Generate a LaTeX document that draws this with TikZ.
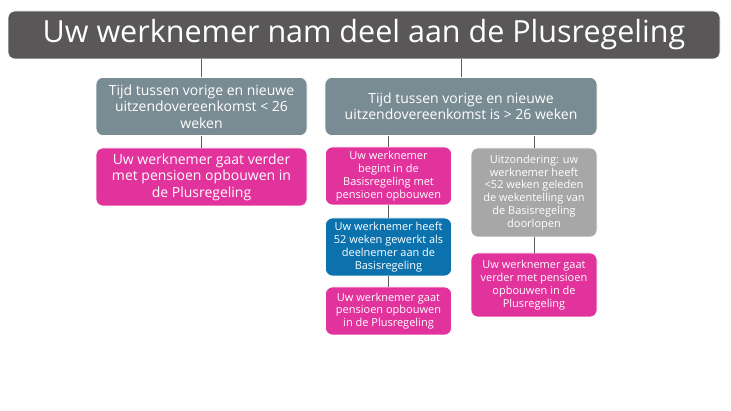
\documentclass[tikz,border=0pt]{standalone}
\usepackage{fontspec}
\setmainfont{Open Sans}
\usetikzlibrary{positioning}
\definecolor{titlegrey}{HTML}{595757}
\definecolor{slate}{HTML}{7A8C93}
\definecolor{roze}{HTML}{E2329B}
\definecolor{blauw}{HTML}{0B72AE}
\definecolor{lichtgrijs}{HTML}{A7A7A7}
\definecolor{lijn}{HTML}{5A5A5A}

\begin{document}
\begin{tikzpicture}[x=1pt,y=1pt,on grid,
  box/.style={rounded corners=7pt,draw=white,line width=0.6pt,text=white,align=center,inner sep=0pt},
  bigbox/.style={box,minimum height=58pt,font=\fontsize{14}{16.5}\selectfont},
  smallbox/.style={box,minimum width=126pt,font=\fontsize{11}{12.8}\selectfont},
  line/.style={draw=lijn,line width=1pt}]
  \useasboundingbox (0,0) rectangle (731,-411);
  \node[box,fill=titlegrey,minimum width=712pt,minimum height=48pt,
    font=\fontsize{30.5}{36}\selectfont] (plus) at (364,-35) {Uw werknemer nam deel aan de Plusregeling};
  \node[bigbox,fill=slate,minimum width=211pt] (kort) at (201.5,-106.5)
    {Tijd tussen vorige en nieuwe\\uitzendovereenkomst < 26\\weken};
  \node[bigbox,fill=slate,minimum width=272pt] (lang) [right = 259.5pt of kort]
    {Tijd tussen vorige en nieuwe\\uitzendovereenkomst is > 26 weken};
  \node[bigbox,fill=roze,minimum width=211pt] (verder) [below = 70.5pt of kort]
    {Uw werknemer gaat verder\\met pensioen opbouwen in\\de Plusregeling};
  \node[smallbox,fill=roze,minimum height=58pt] (basis) at (388.5,-176)
    {Uw werknemer\\begint in de\\Basisregeling met\\pensioen opbouwen};
  \node[smallbox,fill=blauw,minimum height=58pt] (jaar) [below = 71pt of basis]
    {Uw werknemer heeft\\52 weken gewerkt als\\deelnemer aan de\\Basisregeling};
  \node[smallbox,fill=roze,minimum height=48pt] (nuplus) [below = 64pt of jaar]
    {Uw werknemer gaat\\pensioen opbouwen\\in de Plusregeling};
  \node[smallbox,fill=lichtgrijs,minimum height=89pt] (uitz) at (534,-192.5)
    {Uitzondering: uw\\werknemer heeft\\<52 weken geleden\\de wekentelling van\\de Basisregeling\\doorlopen};
  \node[smallbox,fill=roze,minimum height=64pt] (doorgaan) [below = 92.5pt of uitz]
    {Uw werknemer gaat\\verder met pensioen\\opbouwen in de\\Plusregeling};
  % verbindingen
  \path[line] (plus.south -| kort.north) -- (kort.north);
  \path[line] (plus.south -| lang.north) -- (lang.north);
  \path[line] (kort) -- (verder);
  \path[line] (lang.south -| basis.north) -- (basis.north);
  \path[line] (lang.south -| uitz.north) -- (uitz.north);
  \path[line] (basis) -- (jaar);
  \path[line] (jaar) -- (nuplus);
  \path[line] (uitz) -- (doorgaan);
\end{tikzpicture}
\end{document}
